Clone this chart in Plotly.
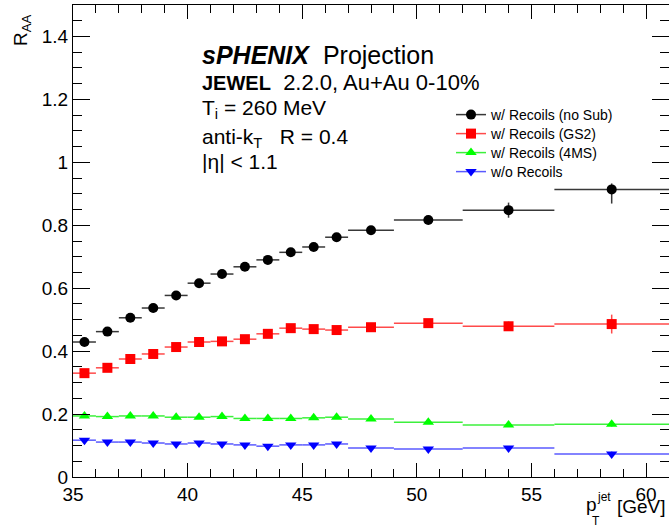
import plotly.graph_objects as go

# pT^jet bin edges [GeV]
bin_edges = [35, 36, 37, 38, 39, 40, 41, 42, 43, 44, 45, 46, 47, 49, 52, 56, 61]

# R_AA values per bin
raa_recoils_nosub = [0.429, 0.462, 0.506, 0.537, 0.577, 0.616, 0.645, 0.668,
                     0.690, 0.714, 0.731, 0.762, 0.784, 0.817, 0.848, 0.914]
raa_recoils_gs2 = [0.330, 0.347, 0.375, 0.391, 0.413, 0.429, 0.431, 0.438,
                   0.455, 0.473, 0.470, 0.467, 0.476, 0.489, 0.479, 0.486]
raa_recoils_4ms = [0.194, 0.192, 0.194, 0.194, 0.190, 0.190, 0.192, 0.186,
                   0.186, 0.186, 0.188, 0.190, 0.184, 0.174, 0.165, 0.168]
raa_norecoils = [0.117, 0.111, 0.111, 0.108, 0.105, 0.108, 0.105, 0.102,
                 0.098, 0.102, 0.102, 0.105, 0.092, 0.089, 0.092, 0.073]

# statistical uncertainties (up / down)
err_nosub_up = [0.006] * 12 + [0.010, 0.014, 0.024, 0.019]
err_nosub_dn = [0.006] * 12 + [0.010, 0.014, 0.024, 0.045]
err_gs2 = [0.005] * 12 + [0.008, 0.010, 0.015, 0.030]
err_4ms = [0.003] * 12 + [0.004, 0.005, 0.006, 0.008]
err_norec = [0.003] * 12 + [0.004, 0.005, 0.006, 0.008]

series_names = ["w/ Recoils (no Sub)", "w/ Recoils (GS2)",
                "w/ Recoils (4MS)", "w/o Recoils"]

bin_centers = [(lo + hi) / 2 for lo, hi in zip(bin_edges[:-1], bin_edges[1:])]
bin_half = [(hi - lo) / 2 for lo, hi in zip(bin_edges[:-1], bin_edges[1:])]

styles = [
    dict(symbol="circle", color="#000000", bar="#383838", size=10),
    dict(symbol="square", color="#ff0000", bar="#ff4a4a", size=10),
    dict(symbol="triangle-up", color="#00ff00", bar="#3cf03c", size=10),
    dict(symbol="triangle-down", color="#0000ff", bar="#5a5aff", size=10),
]
values = [raa_recoils_nosub, raa_recoils_gs2, raa_recoils_4ms, raa_norecoils]
errs_up = [err_nosub_up, err_gs2, err_4ms, err_norec]
errs_dn = [err_nosub_dn, err_gs2, err_4ms, err_norec]

fig = go.Figure()

for name, vals, eu, ed, st in zip(series_names, values, errs_up, errs_dn, styles):
    fig.add_trace(go.Scatter(
        x=bin_centers, y=vals, mode="markers", showlegend=False, name=name,
        marker=dict(symbol=st["symbol"], color=st["color"], size=st["size"]),
        error_x=dict(type="data", array=bin_half, color=st["bar"],
                     thickness=1.5, width=0),
        error_y=dict(type="data", array=eu, arrayminus=ed, symmetric=False,
                     color=st["bar"], thickness=1.5, width=0),
    ))

FONT = "Liberation Sans, Arial, Helvetica, sans-serif"


def px(xp):
    return (xp - 73) / 596.0


def py(yp):
    return (477 - yp) / 472.0


# legend entries drawn as line + marker, one compact legend box per row
legend_ids = ["legend", "legend2", "legend3", "legend4"]
legend_rows = [115, 134, 153, 172]
legend_layout = {}
for name, st, lid, row in zip(series_names, styles, legend_ids, legend_rows):
    fig.add_trace(go.Scatter(
        x=[None], y=[None], mode="lines+markers", name=name, legend=lid,
        marker=dict(symbol=st["symbol"], color=st["color"], size=st["size"]),
        line=dict(color=st["bar"], width=1.5),
    ))
    legend_layout[lid] = dict(
        x=px(451), y=py(row), xanchor="left", yanchor="middle",
        bgcolor="rgba(0,0,0,0)", borderwidth=0, itemwidth=30,
        font=dict(family=FONT, size=14, color="black"),
    )

axis_common = dict(
    showline=True, linecolor="black", linewidth=1, mirror="ticks",
    ticks="inside", tickcolor="black", tickwidth=1,
    showgrid=False, zeroline=False,
    tickfont=dict(family=FONT, size=19, color="black"),
)

fig.update_xaxes(range=[35, 61], dtick=5, tick0=35, ticklen=14,
                 minor=dict(dtick=1, ticks="inside", ticklen=8,
                            tickcolor="black", showgrid=False),
                 **axis_common)
fig.update_yaxes(range=[0, 1.5], dtick=0.2, tick0=0, ticklen=17,
                 minor=dict(dtick=0.05, ticks="inside", ticklen=9,
                            tickcolor="black", showgrid=False),
                 **axis_common)

annotations = [
    dict(text="<b><i>sPHENIX</i></b>  Projection", x=px(200), y=py(55), size=25),
    dict(text="<b><span style='font-size:20px'>JEWEL</span></b>  2.2.0, Au+Au 0-10%",
         x=px(200), y=py(82), size=22),
    dict(text="T<sub>i</sub> = 260 MeV", x=px(200), y=py(109), size=21),
    dict(text="anti-k<sub>T</sub>   R = 0.4", x=px(200), y=py(138), size=21),
    dict(text="|η| < 1.1", x=px(200), y=py(161), size=21),
]
for a in annotations:
    fig.add_annotation(text=a["text"], x=a["x"], y=a["y"], xref="paper",
                       yref="paper", xanchor="left", yanchor="middle",
                       showarrow=False,
                       font=dict(family=FONT, size=a["size"], color="black"))

# y-axis title
fig.add_annotation(text="R<sub>AA</sub>", x=px(22), y=py(12), xref="paper",
                   yref="paper", xanchor="center", yanchor="top",
                   textangle=-90, showarrow=False,
                   font=dict(family=FONT, size=19, color="black"))

# x-axis title pieces: p, jet (superscript), T (subscript), [GeV]
fig.add_annotation(text="p", x=px(584), y=py(504), xref="paper", yref="paper",
                   xanchor="left", yanchor="middle", showarrow=False,
                   font=dict(family=FONT, size=19, color="black"))
fig.add_annotation(text="jet", x=px(595), y=py(497), xref="paper", yref="paper",
                   xanchor="left", yanchor="middle", showarrow=False,
                   font=dict(family=FONT, size=12, color="black"))
fig.add_annotation(text="T", x=px(590), y=py(521), xref="paper", yref="paper",
                   xanchor="left", yanchor="middle", showarrow=False,
                   font=dict(family=FONT, size=12, color="black"))
fig.add_annotation(text="[GeV]", x=px(615), y=py(506), xref="paper", yref="paper",
                   xanchor="left", yanchor="middle", showarrow=False,
                   font=dict(family=FONT, size=19, color="black"))

fig.update_layout(
    width=669, height=529,
    margin=dict(l=73, r=0, t=5, b=52),
    paper_bgcolor="white", plot_bgcolor="white",
    font=dict(family=FONT, color="black"),
    **legend_layout,
)

fig.write_html("out.html")
